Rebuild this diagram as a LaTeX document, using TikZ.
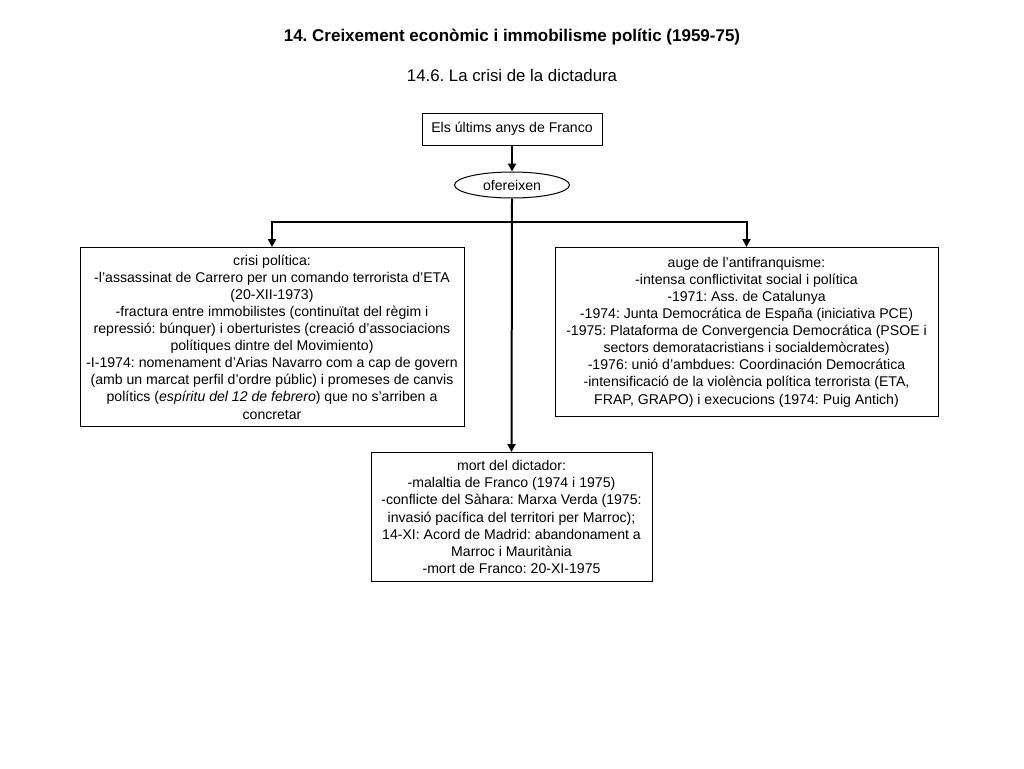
\documentclass[tikz,border=0pt]{standalone}
\usepackage{fontspec}
\setmainfont{Liberation Sans}
\usetikzlibrary{arrows.meta,shapes.geometric}
\frenchspacing

\begin{document}
\begin{tikzpicture}[x=1pt,y=-1pt,
    box/.style={draw,line width=1pt,align=center,inner sep=0pt,
      font=\fontsize{14.1}{17.1}\selectfont},
    link/.style={line width=2pt,-{Triangle[length=8pt,width=8pt]}},
    branch/.style={line width=2pt}]
  \useasboundingbox (0,0) rectangle (1024,768);
  \path
  (512,222) coordinate (split)
  ;
  % titols
  \node[font=\fontsize{17}{20}\selectfont\bfseries] (titol) at (512,37)
    {14. Creixement econòmic i immobilisme polític (1959-75)};
  \node[font=\fontsize{16.8}{20}\selectfont] (subtitol) at (512,75)
    {14.6. La crisi de la dictadura};
  % nodes
  \node[box,minimum width=180,minimum height=32] (anys) at (512,129)
    {Els últims anys de Franco};
  \node[box,ellipse,minimum width=115,minimum height=26] (ofe) at (512,185)
    {ofereixen};
  \node[box,minimum width=384,minimum height=179] (crisi) at (272,337)
    {crisi política:\\
     -l'assassinat de Carrero per un comando terrorista d'ETA\\
     (20-XII-1973)\\
     -fractura entre immobilistes (continuïtat del règim i\\
     repressió: búnquer) i oberturistes (creació d'associacions\\
     polítiques dintre del Movimiento)\\
     -I-1974: nomenament d'Arias Navarro com a cap de govern\\
     (amb un marcat perfil d'ordre públic) i promeses de canvis\\
     polítics (\textit{espíritu del 12 de febrero}) que no s'arriben a\\
     concretar};
  \node[box,minimum width=383,minimum height=169] (auge) at (746.5,332)
    {auge de l'antifranquisme:\\
     -intensa conflictivitat social i política\\
     -1971: Ass. de Catalunya\\
     -1974: Junta Democrática de España (iniciativa PCE)\\
     -1975: Plataforma de Convergencia Democrática (PSOE i\\
     sectors demoratacristians i socialdemòcrates)\\
     -1976: unió d'ambdues: Coordinación Democrática\\
     -intensificació de la violència política terrorista (ETA,\\
     FRAP, GRAPO) i execucions (1974: Puig Antich)};
  \node[box,minimum width=281,minimum height=129] (mort) at (511.5,517)
    {mort del dictador:\\
     -malaltia de Franco (1974 i 1975)\\
     -conflicte del Sàhara: Marxa Verda (1975:\\
     invasió pacífica del territori per Marroc);\\
     14-XI: Acord de Madrid: abandonament a\\
     Marroc i Mauritània\\
     -mort de Franco: 20-XI-1975};
  % connectors
  \draw[link] (anys) -- (ofe);
  \draw[branch] (ofe.south) -- (split);
  \foreach \t in {crisi,auge} \draw[link] (split) -| (\t.north);
  \draw[link] (ofe.south) -- (mort.north);
\end{tikzpicture}
\end{document}
